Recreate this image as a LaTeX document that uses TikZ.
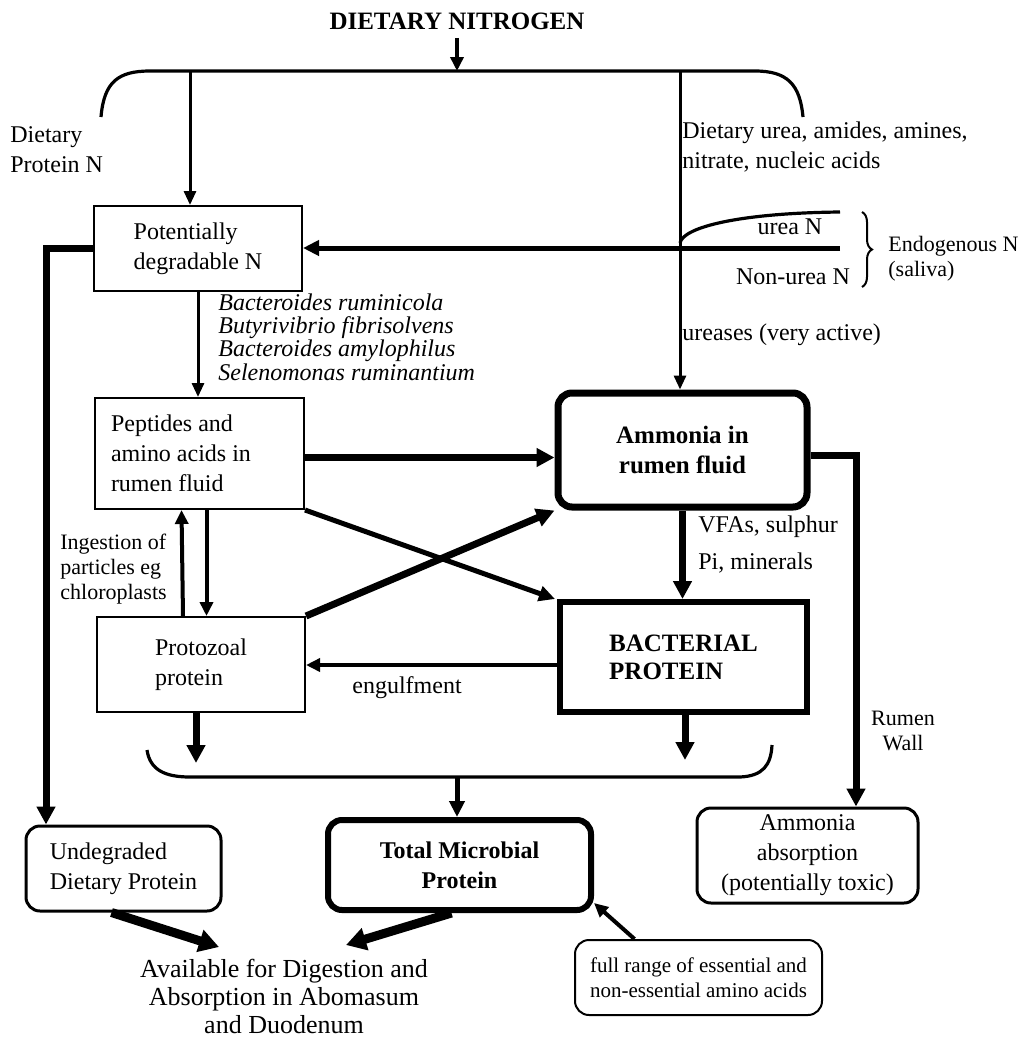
\documentclass[tikz,border=0pt]{standalone}
\usepackage{fontspec}
\setmainfont{Liberation Serif}
\usetikzlibrary{arrows.meta,positioning,calc,decorations.pathreplacing}

\tikzset{
  box/.style={rectangle, draw, line width=1pt, font=\fontsize{12}{15}\selectfont, inner sep=0pt, align=left},
  rbox/.style={box, rounded corners=7pt, line width=1.5pt},
  lbl/.style={inner sep=0pt, font=\fontsize{12}{15}\selectfont, align=left},
  small/.style={lbl, font=\fontsize{11}{12.5}\selectfont},
  arr/.style={-{Triangle[length=7pt,width=6pt]}, line width=1.5pt},
  arrm/.style={-{Triangle[length=7pt,width=6.5pt]}, line width=2pt},
  arrt/.style={-{Triangle[length=8pt,width=7.5pt]}, line width=2.5pt},
  fat/.style={-{Triangle[length=9pt,width=9pt]}, line width=3.5pt},
  heavy/.style={-{Triangle[length=10pt,width=11pt]}, line width=4.5pt},
  brk/.style={line width=1.6pt}
}

\begin{document}
\begin{tikzpicture}[x=0.5pt, y=-0.5pt]
    \useasboundingbox (0,0) rectangle (1022,1040);

    % Title and top bracket
    \node[lbl, font=\fontsize{12.5}{15}\selectfont\bfseries] (diet) at (457,21) {DIETARY NITROGEN};
    \coordinate (tmid) at (457,71);
    \draw[arrm] ([yshift=-4pt]diet.south) -- (tmid);
    \draw[brk] (101,117) .. controls (104,82) and (118,71) .. (150,71) -- (755,71) .. controls (787,71) and (800,84) .. (803,117);

    \node[lbl, anchor=west] (dpn) at (10,150) {Dietary\\Protein N};
    \node[lbl, anchor=west] (dua) at (682,147) {Dietary urea, amides, amines,\\nitrate, nucleic acids};

    % Boxes
    \node[box, minimum width=104pt, minimum height=42.5pt] (pdn) at (198,248.5) {Potentially\\degradable N};
    \node[box, minimum width=104.5pt, minimum height=55.5pt, text width=88.5pt, inner xsep=8pt, align=flush left] (pep) at (199.5,453.5) {Peptides and\\amino acids in\\rumen fluid};
    \node[box, minimum width=104pt, minimum height=47.5pt] (pro) at (201,664.5) {Protozoal\\protein};
    \node[rbox, line width=3.5pt, minimum width=124.5pt, minimum height=57pt, align=center, font=\fontsize{12.5}{15}\selectfont\bfseries] (amm) at (682.5,450) {Ammonia in\\rumen fluid};
    \node[box, line width=3pt, minimum width=123.5pt, minimum height=55pt, font=\fontsize{12.5}{14}\selectfont\bfseries] (bac) at (683.5,657) {BACTERIAL\\PROTEIN};
    \node[rbox, minimum width=97.5pt, minimum height=42.5pt] (und) at (123.5,868.5) {Undegraded\\Dietary Protein};
    \node[rbox, line width=3pt, minimum width=131.5pt, minimum height=45pt, align=center, font=\fontsize{12}{15}\selectfont\bfseries] (tmp) at (459.5,865) {Total Microbial\\Protein};
    \node[rbox, minimum width=110.5pt, minimum height=47.5pt, align=center] (abs) at (807.5,855.5) {Ammonia\\absorption\\(potentially toxic)};
    \node[rbox, line width=1pt, minimum width=123.5pt, minimum height=37.5pt, font=\fontsize{10.5}{12.5}\selectfont] (full) at (698.5,977.5) {full range of essential and\\non-essential amino acids};
    \node[lbl, align=center, font=\fontsize{13}{14}\selectfont] (avail) at (284,996) {Available for Digestion and\\Absorption in Abomasum\\and Duodenum};

    % Labels
    \node[lbl] (urea) at (790,227) {urea N};
    \node[lbl] (nonurea) at (793,277) {Non-urea N};
    \node[small, anchor=west] (endo) at (888,259) {Endogenous N\\(saliva)};
    \node[lbl, anchor=west, font=\fontsize{12}{11.7}\selectfont\itshape] (bact) at (218,337) {Bacteroides ruminicola\\Butyrivibrio fibrisolvens\\Bacteroides amylophilus\\Selenomonas ruminantium};
    \node[lbl, anchor=west] (urease) at (682,335) {ureases (very active)};
    \node[small, anchor=west] (ingest) at (60,569) {Ingestion of\\particles eg\\chloroplasts};
    \node[lbl, anchor=west] (vfa) at (698,527) {VFAs, sulphur};
    \node[lbl, anchor=west] (pim) at (698,563) {Pi, minerals};
    \node[lbl] (engulf) at (407,688) {engulfment};
    \node[small, align=center] (wall) at (903,731) {Rumen\\Wall};

    % Dietary N split
    \coordinate (tl) at (190,71);
    \coordinate (tr) at (680,71);
    \draw[arr] (tl) -- (tl |- pdn.north);
    \draw[arr] (tr) -- (tr |- amm.north);

    % Endogenous N
    \coordinate (ureaend) at (840,212);
    \coordinate (nue) at (840,248);
    \draw[brk] (680,243) .. controls (683,227) and (740,213) .. (ureaend);
    \draw[arrt] (nue) -- (nue -| pdn.east);
    \draw[decorate, decoration={brace, amplitude=5pt}, line width=1pt] (862,212) -- (862,287);

    % Rumen degradation
    \draw[arr] (pdn.south) -- (pdn.south |- pep.north);
    \coordinate (lft) at (46,248.5);
    \draw[fat] (pdn.west) -- (lft) -- (lft |- und.north);
    \draw[fat] ([yshift=-2pt]pep.east) -- ([yshift=-2pt]pep.east -| amm.west);
    \draw[arrt] (pep.south east) -- ([xshift=-1pt]bac.north west);
    \draw[fat] (pro.north east) -- (amm.south west);
    \draw[arrm] ([xshift=-9pt]pro.north) -- ([xshift=-9pt]pep.south);
    \draw[arrm] ([xshift=3.5pt]pep.south) -- ([xshift=3.5pt]pep.south |- pro.north);
    \draw[fat] (amm.south) -- (amm.south |- bac.north);
    \draw[arrm] ([yshift=-4pt]bac.west) -- ([yshift=-4pt]bac.west -| pro.east);
    \coordinate (rw) at (856,0);
    \draw[fat] ([yshift=-2.5pt]amm.east) -| (rw |- abs.north);

    % Microbial protein
    \coordinate (lb1) at (196,763);
    \coordinate (lb2) at (685,760);
    \draw[fat] (pro.south -| lb1) -- (lb1);
    \draw[fat] (bac.south -| lb2) -- (lb2);
    \draw[brk] (147,750) .. controls (150,770) and (165,777) .. (190,777) -- (740,777) .. controls (763,776) and (771,765) .. (772,745);
    \coordinate (lbm) at (457,777);
    \draw[arrt] (lbm) -- (lbm |- tmp.north);

    % To abomasum
    \coordinate (av1) at (219,947);
    \coordinate (av2) at (346,945);
    \draw[heavy] ([xshift=-6pt]und.south) -- (av1);
    \draw[heavy] ([xshift=-4pt]tmp.south) -- (av2);
    \draw[arrm] ([xshift=-32pt]full.north) -- ([yshift=5pt]tmp.south east);
\end{tikzpicture}
\end{document}
